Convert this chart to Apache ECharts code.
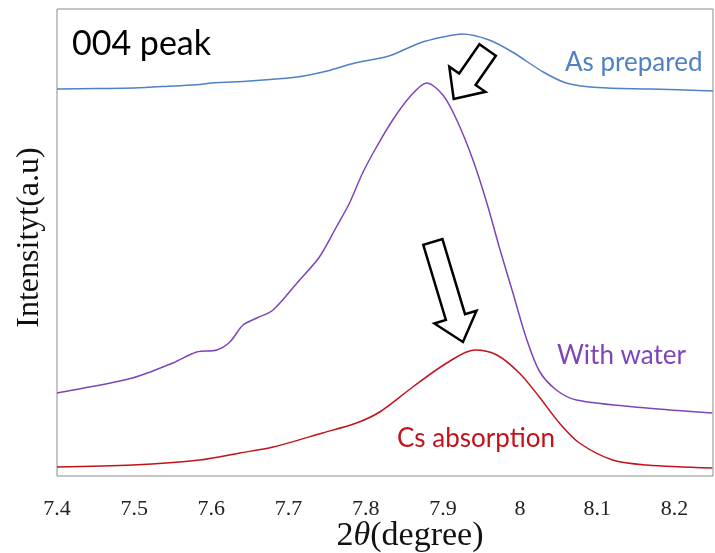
<!DOCTYPE html>
<html>
<head>
<meta charset="utf-8">
<script src="https://cdn.jsdelivr.net/npm/echarts@6/dist/echarts.min.js"></script>
<style>
  html, body { margin: 0; padding: 0; background: #fff; }
  #chart { width: 715px; height: 553px; }
</style>
</head>
<body>
<div id="chart"></div>
<script>
// 2theta positions and intensity (a.u., offset stacked)
var prepX = [7.40, 7.45, 7.50, 7.55, 7.585, 7.60, 7.65, 7.70, 7.72, 7.75, 7.786, 7.83, 7.87, 7.90, 7.925, 7.96, 7.99, 8.03, 8.06, 8.10, 8.17, 8.25];
var prepY = [387, 387.5, 388, 390, 391.5, 393, 395, 398, 400, 405, 413, 420, 433, 439, 442, 436, 424, 404, 393, 388.5, 387, 385];

var waterX = [7.400, 7.421, 7.498, 7.550, 7.581, 7.607, 7.624, 7.641, 7.659, 7.680, 7.711, 7.740, 7.762, 7.779, 7.796, 7.814, 7.835, 7.857, 7.879, 7.900, 7.918, 7.939, 7.957, 7.973, 7.990, 8.008, 8.025, 8.047, 8.073, 8.164, 8.249];
var waterY = [83, 86, 98, 113, 124, 126, 134, 151, 158, 166, 193, 219, 249, 273, 303, 329, 356, 379, 393, 381, 356, 316, 273, 229, 185, 138, 105, 86, 76, 68, 63];

var csX = [7.400, 7.498, 7.585, 7.637, 7.680, 7.744, 7.788, 7.818, 7.861, 7.905, 7.941, 7.970, 7.999, 8.025, 8.051, 8.077, 8.120, 8.164, 8.249];
var csY = [9, 11, 16, 23, 29, 43, 53, 64, 89, 113, 126, 121, 103, 79, 53, 33, 16, 11, 8];

// arrows: [tailX, tailY, tipX, tipY] in data units
var arrowA = [7.958, 426, 7.914, 377];
var arrowB = [7.887, 234, 7.926, 134];

function pairs(xs, ys) {
  return xs.map(function (x, i) { return [x, ys[i]]; });
}

var chart = echarts.init(document.getElementById('chart'));

var option = {
  animation: false,
  grid: {
    left: 57, top: 9, right: 2, bottom: 77,
    outerBoundsMode: 'none', containLabel: false,
    show: true, borderColor: '#8c8c8c', borderWidth: 1
  },
  xAxis: {
    type: 'value', min: 7.4, max: 8.25, interval: 0.1,
    axisLine: { show: false }, axisTick: { show: false }, splitLine: { show: false },
    axisLabel: {
      margin: 22, color: '#222', fontFamily: 'Liberation Serif', fontSize: 22,
      showMaxLabel: false,
      formatter: function (v) { return String(parseFloat(v.toFixed(2))); }
    },
    name: '{n|2}{t|θ}{n|(degree)}',
    nameLocation: 'middle', nameGap: 43, nameMoveOverlap: false,
    nameTextStyle: {
      padding: [0, 0, 0, 50],
      rich: {
        n: { fontFamily: 'Liberation Serif', fontSize: 34, color: '#111' },
        t: { fontFamily: 'Liberation Serif', fontSize: 34, fontStyle: 'italic', color: '#111' }
      }
    }
  },
  yAxis: {
    type: 'value', min: 0, max: 467,
    axisLine: { show: false }, axisTick: { show: false }, splitLine: { show: false },
    axisLabel: { show: false },
    name: 'Intensityt(a.u)', nameLocation: 'middle', nameGap: 11, nameRotate: 90,
    nameTextStyle: { fontFamily: 'Liberation Serif', fontSize: 32, color: '#111', padding: [0, 0, 0, 10] }
  },
  series: [
    { name: 'As prepared', type: 'line', data: pairs(prepX, prepY), smooth: 0.3, showSymbol: false,
      lineStyle: { color: '#4f81c4', width: 1.5 } },
    { name: 'With water', type: 'line', data: pairs(waterX, waterY), smooth: 0.3, showSymbol: false,
      lineStyle: { color: '#7e45b8', width: 1.5 } },
    { name: 'Cs absorption', type: 'line', data: pairs(csX, csY), smooth: 0.3, showSymbol: false,
      lineStyle: { color: '#c3131a', width: 1.5 } }
  ]
};
chart.setOption(option);

function arrowShape(a, w, hw, hl) {
  var t = chart.convertToPixel({ gridIndex: 0 }, [a[0], a[1]]);
  var p = chart.convertToPixel({ gridIndex: 0 }, [a[2], a[3]]);
  var dx = p[0] - t[0], dy = p[1] - t[1];
  var len = Math.sqrt(dx * dx + dy * dy);
  var ux = dx / len, uy = dy / len;
  var nx = -uy, ny = ux;
  var h = [p[0] - ux * hl, p[1] - uy * hl];
  return [
    [t[0] + nx * w, t[1] + ny * w],
    [h[0] + nx * w, h[1] + ny * w],
    [h[0] + nx * hw, h[1] + ny * hw],
    p,
    [h[0] - nx * hw, h[1] - ny * hw],
    [h[0] - nx * w, h[1] - ny * w],
    [t[0] - nx * w, t[1] - ny * w]
  ];
}

var labelFont = 'Lato';
chart.setOption({
  graphic: [
    { type: 'polygon', shape: { points: arrowShape(arrowA, 10, 22, 24) },
      style: { fill: '#fff', stroke: '#000', lineWidth: 2.5, lineJoin: 'miter' }, z: 10 },
    { type: 'polygon', shape: { points: arrowShape(arrowB, 10, 22, 26) },
      style: { fill: '#fff', stroke: '#000', lineWidth: 2.5, lineJoin: 'miter' }, z: 10 },
    { type: 'text', left: 72, top: 27,
      style: { text: '004 peak', font: '34px ' + labelFont, fill: '#000' }, z: 10 },
    { type: 'text', left: 565, top: 50,
      style: { text: 'As prepared', font: '26px ' + labelFont, fill: '#4f81c4' }, z: 10 },
    { type: 'text', left: 557, top: 343,
      style: { text: 'With water', font: '26px ' + labelFont, fill: '#7e45b8' }, z: 10 },
    { type: 'text', left: 397, top: 426,
      style: { text: 'Cs absorption', font: '26px ' + labelFont, fill: '#c3131a' }, z: 10 }
  ]
});
</script>
</body>
</html>
